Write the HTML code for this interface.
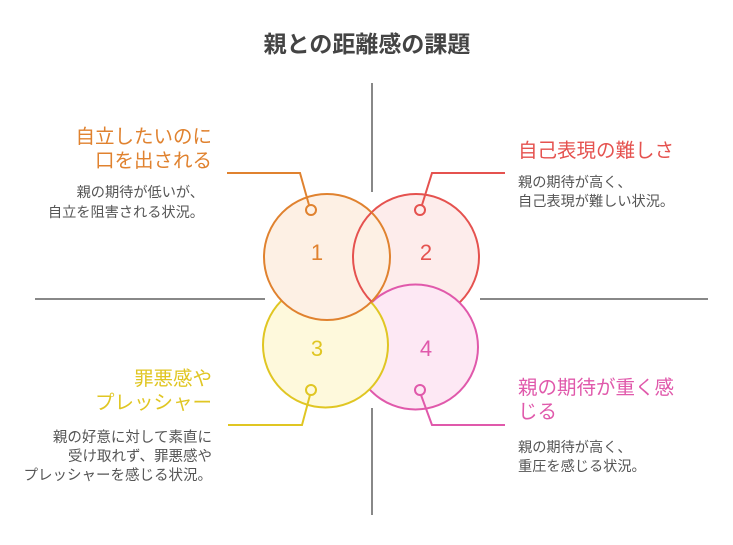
<!DOCTYPE html>
<html><head><meta charset="utf-8"><style>
html,body{margin:0;padding:0;background:#fff;}
svg text{font-family:"Liberation Sans","Noto Sans CJK JP",sans-serif;}
</style></head><body>
<svg width="733" height="540" viewBox="0 0 733 540" xmlns="http://www.w3.org/2000/svg">
<defs><clipPath id="c1"><circle cx="327" cy="257" r="63"/></clipPath></defs>
<text x="367" y="52" text-anchor="middle" font-size="23" font-weight="bold" fill="#444">親との距離感の課題</text>
<g stroke="#888" stroke-width="2">
<line x1="372" y1="83" x2="372" y2="192"/>
<line x1="372" y1="408" x2="372" y2="515"/>
<line x1="35" y1="299" x2="265" y2="299"/>
<line x1="480" y1="299" x2="708" y2="299"/>
</g>
<circle cx="416" cy="257" r="63" fill="#fdeceb" stroke="#e5524f" stroke-width="2"/>
<circle cx="415.5" cy="347" r="62.5" fill="#fde8f4" stroke="#e059ab" stroke-width="2"/>
<circle cx="325.5" cy="345" r="62.5" fill="#fef9dc" stroke="#e0c623" stroke-width="2"/>
<circle cx="327" cy="257" r="63" fill="#fdf0e4" stroke="#e0822f" stroke-width="2"/>
<circle cx="416" cy="257" r="63" fill="none" stroke="#e5524f" stroke-width="2" clip-path="url(#c1)"/>
<g font-size="22" text-anchor="middle">
<text x="317" y="260" fill="#e0822f">1</text>
<text x="426" y="260" fill="#e5524f">2</text>
<text x="317" y="356" fill="#e0c623">3</text>
<text x="426" y="356" fill="#e059ab">4</text>
</g>
<g fill="none" stroke-width="2">
<polyline points="227,173 300,173 309,205" stroke="#e0822f"/>
<circle cx="311" cy="210" r="5" stroke="#e0822f" fill="#fdf0e4"/>
<polyline points="505,173 432,173 422,205" stroke="#e5524f"/>
<circle cx="420" cy="210" r="5" stroke="#e5524f" fill="#fdeceb"/>
<polyline points="228,425 302,425 310,395" stroke="#e0c623"/>
<circle cx="311" cy="390" r="5" stroke="#e0c623" fill="#fef9dc"/>
<polyline points="505,425 432,425 421,395" stroke="#e059ab"/>
<circle cx="420" cy="390" r="5" stroke="#e059ab" fill="#fde8f4"/>
</g>
<g font-size="19.5" fill="#e0822f" text-anchor="end">
<text x="212" y="143">自立したいのに</text>
<text x="212" y="167">口を出される</text>
</g>
<g font-size="14.2" fill="#555" text-anchor="end">
<text x="204" y="197">親の期待が低いが、</text>
<text x="204" y="217">自立を阻害される状況。</text>
</g>
<text x="518" y="157" font-size="19.5" fill="#e5524f">自己表現の難しさ</text>
<g font-size="14.2" fill="#555">
<text x="518" y="187">親の期待が高く、</text>
<text x="518" y="206">自己表現が難しい状況。</text>
</g>
<g font-size="19.5" fill="#e0c623" text-anchor="end">
<text x="212" y="385">罪悪感や</text>
<text x="212" y="409">プレッシャー</text>
</g>
<g font-size="14.5" fill="#555" text-anchor="end">
<text x="212" y="442">親の好意に対して素直に</text>
<text x="212" y="461">受け取れず、罪悪感や</text>
<text x="212" y="480">プレッシャーを感じる状況。</text>
</g>
<g font-size="19.5" fill="#e059ab">
<text x="518" y="394">親の期待が重く感</text>
<text x="518" y="418">じる</text>
</g>
<g font-size="14.2" fill="#555">
<text x="518" y="452">親の期待が高く、</text>
<text x="518" y="471">重圧を感じる状況。</text>
</g>
</svg>
</body></html>
